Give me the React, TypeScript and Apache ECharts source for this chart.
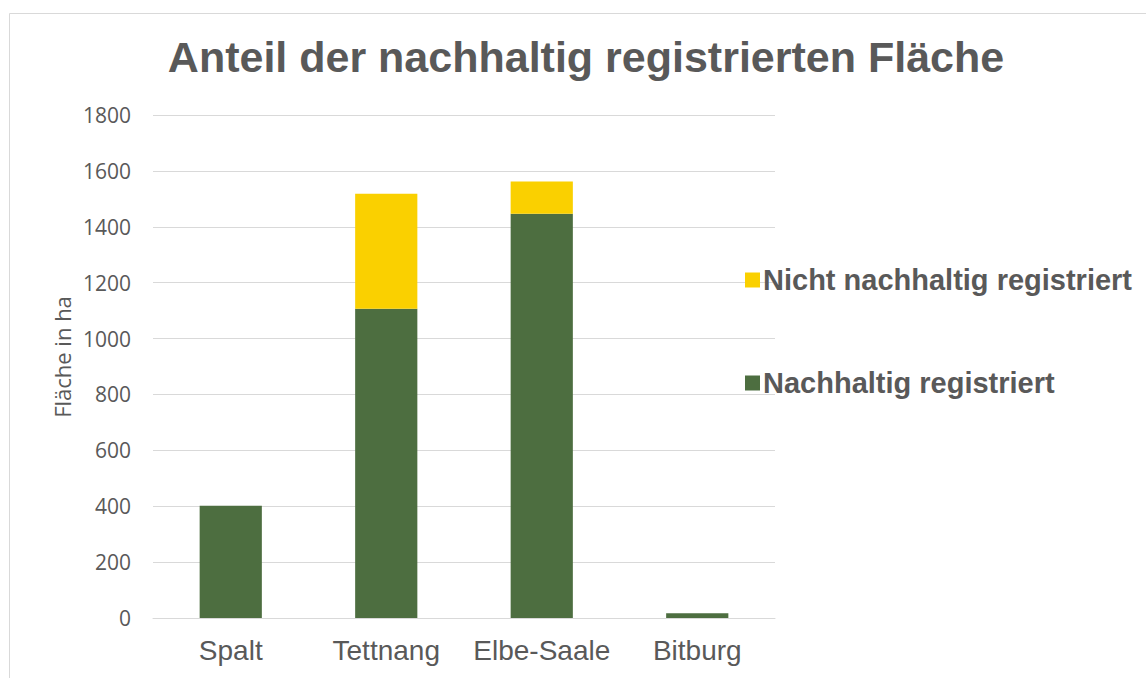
import React, { useEffect, useRef } from "react";
import * as echarts from "echarts";

const categories = ["Spalt", "Tettnang", "Elbe-Saale", "Bitburg"];
const nachhaltig = [402, 1107, 1447, 17];
const nichtNachhaltig = [0, 411, 115, 0];
const yTicks = { min: 0, max: 1800, interval: 200 };

const titleText = "Anteil der nachhaltig registrierten Fläche";
const yAxisTitle = "Fläche in ha";
const seriesNames = ["Nachhaltig registriert", "Nicht nachhaltig registriert"];

const GREEN = "#4d6e40";
const YELLOW = "#fad000";
const TEXT = "#595959";
const GRID = "#d9d9d9";

export default function App() {
  const ref = useRef<HTMLDivElement>(null);
  useEffect(() => {
    if (!ref.current) return;
    const chart = echarts.init(ref.current, null, { renderer: "svg" });
    chart.setOption({
      animation: false,
      backgroundColor: "#ffffff",
      grid: { left: 153, right: 371, top: 115, bottom: 60, containLabel: false },
      graphic: [
        {
          type: "rect",
          shape: { x: 9.5, y: 13.5, width: 1200, height: 700 },
          style: { fill: "none", stroke: GRID, lineWidth: 1 },
          silent: true,
        },
        {
          type: "text",
          x: 586,
          y: 57,
          style: {
            text: titleText,
            fontFamily: "Liberation Sans, Arial, sans-serif",
            fontWeight: "bold",
            fontSize: 43,
            fill: TEXT,
            textAlign: "center",
            textVerticalAlign: "middle",
          },
        },
        {
          type: "text",
          x: 62,
          y: 357,
          rotation: Math.PI / 2,
          style: {
            text: yAxisTitle,
            fontFamily: "Open Sans, sans-serif",
            fontSize: 22,
            fill: TEXT,
            textAlign: "center",
            textVerticalAlign: "middle",
          },
        },
      ],
      legend: {
        orient: "vertical",
        left: 740,
        top: 260,
        itemWidth: 15,
        itemHeight: 15,
        itemGap: 73,
        icon: "rect",
        data: [seriesNames[1], seriesNames[0]],
        textStyle: {
          fontFamily: "Liberation Sans, Arial, sans-serif",
          fontWeight: "bold",
          fontSize: 29,
          lineHeight: 30,
          color: TEXT,
          padding: [0, 0, 0, -2],
        },
      },
      xAxis: {
        type: "category",
        data: categories,
        axisLine: { show: true, lineStyle: { color: GRID, width: 1 } },
        axisTick: { show: false },
        axisLabel: {
          interval: 0,
          color: TEXT,
          fontFamily: "Liberation Sans, Arial, sans-serif",
          fontSize: 28,
          margin: 18,
        },
      },
      yAxis: {
        type: "value",
        min: yTicks.min,
        max: yTicks.max,
        interval: yTicks.interval,
        axisLine: { show: false },
        axisTick: { show: false },
        splitLine: { lineStyle: { color: GRID, width: 1 } },
        axisLabel: {
          color: TEXT,
          fontFamily: "Open Sans, sans-serif",
          fontSize: 21,
          margin: 22,
          formatter: (v: number) => String(v),
        },
      },
      series: [
        {
          name: seriesNames[0],
          type: "bar",
          stack: "total",
          data: nachhaltig,
          barWidth: "40%",
          itemStyle: { color: GREEN },
        },
        {
          name: seriesNames[1],
          type: "bar",
          stack: "total",
          data: nichtNachhaltig,
          barWidth: "40%",
          itemStyle: { color: YELLOW },
        },
      ],
    });
    return () => chart.dispose();
  }, []);
  return (
    <div
      ref={ref}
      style={{ position: "fixed", left: 0, top: 0, width: 1146, height: 678 }}
    />
  );
}
